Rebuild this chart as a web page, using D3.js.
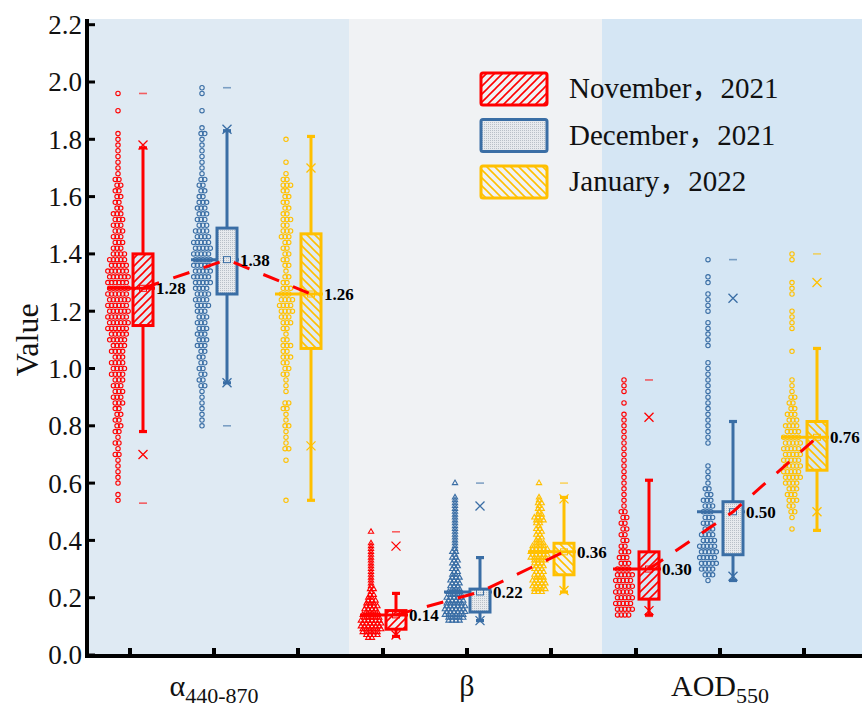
<!DOCTYPE html>
<html>
<head>
<meta charset="utf-8">
<script src="https://cdn.jsdelivr.net/npm/d3@7"></script>
<style>
  html, body { margin: 0; padding: 0; background: #ffffff; }
  svg { display: block; }
</style>
</head>
<body>
<svg id="chart" width="862" height="709"></svg>
<script>
// ---- categories and labels ----
const groupKeys = ["alpha", "beta", "aod"];
const monthKeys = ["November，2021", "December，2021", "January，2022"];
const monthColors = ["#ff0000", "#3a6ea5", "#ffc000"];
const yTickValues = [0, 0.2, 0.4, 0.6, 0.8, 1.0, 1.2, 1.4, 1.6, 1.8, 2.0, 2.2];

// ---- box statistics: rows = alpha, beta, AOD; columns = Nov, Dec, Jan ----
const meanValues   = [[1.28, 1.38, 1.26], [0.14, 0.22, 0.36], [0.30, 0.50, 0.76]];
const q1Values     = [[1.15, 1.26, 1.07], [0.09, 0.15, 0.28], [0.195, 0.35, 0.645]];
const q3Values     = [[1.40, 1.49, 1.47], [0.155, 0.23, 0.39], [0.36, 0.535, 0.815]];
const whiskerLow   = [[0.78, 0.95, 0.54], [0.065, 0.12, 0.22], [0.14, 0.26, 0.435]];
const whiskerHigh  = [[1.77, 1.83, 1.81], [0.215, 0.34, 0.55], [0.61, 0.815, 1.07]];
const p1Values     = [[0.70, 0.95, 0.73], [0.07, 0.12, 0.225], [0.155, 0.275, 0.50]];
const p99Values    = [[1.78, 1.835, 1.70], [0.38, 0.52, 0.545], [0.83, 1.245, 1.30]];
const minValues    = [[0.53, 0.80, 0.54], [0.065, 0.12, 0.22], [0.135, 0.26, 0.435]];
const maxValues    = [[1.96, 1.98, 1.81], [0.43, 0.60, 0.60], [0.96, 1.38, 1.40]];

// ---- raw-value histograms (count of observations per value bin) ----
const binStart = [[0.54, 0.80, 0.54], [0.06, 0.12, 0.22], [0.14, 0.26, 0.44]];
const binStep  = [0.02, 0.01, 0.02];

const alphaNovCounts = [1,1,0,1,1,1,1,1,2,1, 2,1,2,2,2,2,2,3,3,3, 3,3,4,4,4,3,4,4,5,5,
                        6,6,6,6,6,6,6,6,6,6, 6,5,5,4,3,3,3,3,3,3, 3,2,2,2,2,2,2,1,1,1,
                        1,1,1,1,1,0,0,0,1,0, 0,1];
const alphaDecCounts = [1,1,1,1,1,1,1,2,2,2, 2,2,2,2,3,3,3,3,3,3, 3,4,4,4,4,5,5,5,5,5,
                        5,5,5,4,4,3,3,3,3,3, 2,2,2,2,1,1,1,1,1,1, 1,2,1,0,0,1,0,0,1,1];
const alphaJanCounts = [1,0,0,0,0,0,0,1,0,2, 1,1,1,2,1,1,2,2,0,1, 1,1,2,2,2,3,2,3,2,1,
                        2,3,3,4,4,4,3,3,2,2, 1,2,2,2,2,2,3,3,2,3, 2,2,2,2,2,3,2,1,0,1,
                        0,0,0,1];
const betaNovCounts  = [2,4,5,6,6,6,6,5,5,4, 4,4,3,3,2,2,1,2,1,1, 1,1,1,1,1,1,1,1,1,1,
                        1,1,1,1,0,0,0,1];
const betaDecCounts  = [4,5,6,6,6,6,5,5,5,4, 4,3,3,3,3,3,2,2,2,2, 2,2,2,1,2,1,1,1,1,1,
                        1,1,1,1,1,1,1,1,1,1, 1,1,1,1,0,0,0,0,1];
const betaJanCounts  = [3,4,4,4,4,3,3,3,3,3, 3,4,5,5,5,5,4,3,2,2, 2,2,2,1,2,3,3,2,1,2,
                        1,2,1,1,0,0,0,0,1];
const aodNovCounts   = [4,5,5,5,5,5,5,5,4,3, 3,3,2,2,2,2,2,2,2,1, 1,1,1,1,1,1,1,1,1,1,
                        1,1,1,1,1,1,0,1,0,1, 1,1];
const aodDecCounts   = [1,3,4,5,5,5,5,4,4,3, 3,3,3,3,3,2,2,1,1,1, 1,0,0,0,1,1,1,1,1,1,
                        1,1,1,1,1,1,1,1,1,0, 0,1,1,1,1,1,0,1,1,1, 1,0,1,1,0,0,1];
const aodJanCounts   = [1,0,1,2,2,3,3,3,4,5, 5,5,5,5,5,5,5,4,4,3, 3,2,2,2,1,1,1,0,0,0,
                        0,1,0,0,0,1,1,1,1,0, 0,1,1,1,0,0,0,1,1];

const scatterCounts = [
  [alphaNovCounts, alphaDecCounts, alphaJanCounts],
  [betaNovCounts, betaDecCounts, betaJanCounts],
  [aodNovCounts, aodDecCounts, aodJanCounts]
];

// ---- drawing ----
const serif = "'Liberation Serif', 'Times New Roman', 'Noto Sans CJK SC', serif";
const svg = d3.select("#chart");
const plotLeft = 87, plotRight = 862, plotTop = 19;

const y = d3.scaleLinear().domain([0, 2.2]).range([655, 24.7]);
const xGroup = d3.scaleBand().domain(groupKeys).range([96, 855]);
const xMonth = d3.scalePoint().domain(monthKeys).range([34, 202]);
const xPart = d3.scalePoint().domain(["scatter", "box"]).range([-12, 13]);
const tickX = (gi, mi) => xGroup(groupKeys[gi]) + xMonth(monthKeys[mi]);

const defs = svg.append("defs");
// hatch for November
const pNov = defs.append("pattern").attr("id", "hatchNov")
  .attr("patternUnits", "userSpaceOnUse").attr("width", 8).attr("height", 8);
pNov.append("path").attr("d", "M-2,2 L2,-2 M0,8 L8,0 M6,10 L10,6")
  .attr("stroke", monthColors[0]).attr("stroke-width", 1.6);
// fine dots for December
const pDec = defs.append("pattern").attr("id", "dotsDec")
  .attr("patternUnits", "userSpaceOnUse").attr("width", 2).attr("height", 2);
pDec.append("rect").attr("width", 2).attr("height", 2).attr("fill", "#e7eaee");
pDec.append("rect").attr("width", 1).attr("height", 1).attr("fill", "#b9c0c8");
// hatch for January
const pJan = defs.append("pattern").attr("id", "hatchJan")
  .attr("patternUnits", "userSpaceOnUse").attr("width", 8).attr("height", 8);
pJan.append("path").attr("d", "M-2,6 L2,10 M0,0 L8,8 M6,-2 L10,2")
  .attr("stroke", monthColors[2]).attr("stroke-width", 1.6);
const boxFills = ["url(#hatchNov)", "url(#dotsDec)", "url(#hatchJan)"];

// group backgrounds
const bgColors = ["#dfeaf3", "#f0f2f4", "#d5e6f4"];
groupKeys.forEach((g, gi) => {
  const x0 = gi === 0 ? plotLeft : xGroup(g);
  const x1 = gi === groupKeys.length - 1 ? plotRight : xGroup(g) + xGroup.bandwidth();
  svg.append("rect").attr("x", x0).attr("y", plotTop)
    .attr("width", x1 - x0).attr("height", y(0) - plotTop).attr("fill", bgColors[gi]);
});

const dotSpacing = 3.7;
const markLayer = svg.append("g");

groupKeys.forEach((g, gi) => {
  monthKeys.forEach((m, mi) => {
    const cx = tickX(gi, mi);
    const sx = cx + xPart("scatter");
    const bx = cx + xPart("box");
    const color = monthColors[mi];
    const gS = markLayer.append("g");

    // distribution points, rows alternately nudged so neighbours interleave
    const pts = [];
    scatterCounts[gi][mi].forEach((n, i) => {
      const v = +(binStart[gi][mi] + i * binStep[gi]).toFixed(3);
      const nudge = n > 1 ? (i % 2 === 0 ? -0.9 : 0.9) : 0;
      for (let k = 0; k < n; k++) pts.push({ v, dx: (k - (n - 1) / 2) * dotSpacing + nudge });
    });
    if (gi === 1) {
      const tri = d3.symbol(d3.symbolTriangle).size(12)();
      gS.selectAll("path.pt").data(pts).join("path").attr("class", "pt")
        .attr("d", tri)
        .attr("transform", d => `translate(${sx + d.dx},${y(d.v)})`)
        .attr("fill", "none").attr("stroke", color).attr("stroke-width", 1.1);
    } else {
      gS.selectAll("circle").data(pts).join("circle")
        .attr("cx", d => sx + d.dx).attr("cy", d => y(d.v)).attr("r", 2.2)
        .attr("fill", "none").attr("stroke", color).attr("stroke-width", 1.1);
    }

    const mean = meanValues[gi][mi];
    // mean level across points and box
    gS.append("line").attr("x1", cx - 23).attr("x2", cx + 25)
      .attr("y1", y(mean)).attr("y2", y(mean))
      .attr("stroke", color).attr("stroke-width", 3);

    // whiskers
    const bw = 20;
    gS.append("line").attr("x1", bx).attr("x2", bx)
      .attr("y1", y(q3Values[gi][mi])).attr("y2", y(whiskerHigh[gi][mi]))
      .attr("stroke", color).attr("stroke-width", 3);
    gS.append("line").attr("x1", bx).attr("x2", bx)
      .attr("y1", y(q1Values[gi][mi])).attr("y2", y(whiskerLow[gi][mi]))
      .attr("stroke", color).attr("stroke-width", 3);
    [whiskerHigh[gi][mi], whiskerLow[gi][mi]].forEach(v => {
      gS.append("line").attr("x1", bx - 4).attr("x2", bx + 4)
        .attr("y1", y(v)).attr("y2", y(v))
        .attr("stroke", color).attr("stroke-width", 3.2);
    });

    // box
    gS.append("rect").attr("x", bx - bw / 2).attr("y", y(q3Values[gi][mi]))
      .attr("width", bw).attr("height", y(q1Values[gi][mi]) - y(q3Values[gi][mi]))
      .attr("fill", boxFills[mi]).attr("stroke", color).attr("stroke-width", 3);

    // mean marker
    gS.append("rect").attr("x", bx - 3.5).attr("y", y(mean) - 3)
      .attr("width", 7).attr("height", 6)
      .attr("fill", "none").attr("stroke", color).attr("stroke-width", 1);

    // 1st / 99th percentile crosses
    [p1Values[gi][mi], p99Values[gi][mi]].forEach(v => {
      const yy = y(v);
      gS.append("path").attr("d", `M${bx - 4.5},${yy - 4.5}L${bx + 4.5},${yy + 4.5}M${bx - 4.5},${yy + 4.5}L${bx + 4.5},${yy - 4.5}`)
        .attr("stroke", color).attr("stroke-width", 1.3).attr("fill", "none");
    });
    // min / max dashes
    [minValues[gi][mi], maxValues[gi][mi]].forEach(v => {
      gS.append("line").attr("x1", bx - 4).attr("x2", bx + 4)
        .attr("y1", y(v)).attr("y2", y(v))
        .attr("stroke", color).attr("stroke-width", 1.6).attr("opacity", 0.6);
    });
  });
});

// dashed trend through the monthly means
const trend = d3.line().x(d => d.x).y(d => y(d.v));
groupKeys.forEach((g, gi) => {
  const pts = monthKeys.map((m, mi) => ({ x: tickX(gi, mi) + xPart("box"), v: meanValues[gi][mi] }));
  svg.append("path").attr("d", trend(pts)).attr("fill", "none")
    .attr("stroke", "#ff0000").attr("stroke-width", 3).attr("stroke-dasharray", "17,15");
});

// mean value labels
groupKeys.forEach((g, gi) => {
  monthKeys.forEach((m, mi) => {
    svg.append("text")
      .attr("x", tickX(gi, mi) + xPart("box") + 13)
      .attr("y", y(meanValues[gi][mi])).attr("dy", "0.35em")
      .attr("font-family", serif).attr("font-weight", "bold").attr("font-size", 17)
      .attr("fill", "#000").text(d3.format(".2f")(meanValues[gi][mi]));
  });
});

// axes
const axisG = svg.append("g");
axisG.append("line").attr("x1", plotLeft).attr("x2", plotLeft)
  .attr("y1", plotTop).attr("y2", y(0) + 3).attr("stroke", "#000").attr("stroke-width", 4);
axisG.append("line").attr("x1", plotLeft - 2).attr("x2", plotRight)
  .attr("y1", y(0) + 1).attr("y2", y(0) + 1).attr("stroke", "#000").attr("stroke-width", 4);
yTickValues.forEach(v => {
  axisG.append("line").attr("x1", plotLeft).attr("x2", plotLeft + 8)
    .attr("y1", y(v)).attr("y2", y(v)).attr("stroke", "#000").attr("stroke-width", 3);
  axisG.append("text").attr("x", 82).attr("y", y(v)).attr("dy", "0.35em")
    .attr("text-anchor", "end").attr("font-family", serif).attr("font-size", 27)
    .attr("fill", "#111").text(d3.format(".1f")(v));
});
groupKeys.forEach((g, gi) => {
  monthKeys.forEach((m, mi) => {
    const tx = tickX(gi, mi);
    axisG.append("line").attr("x1", tx).attr("x2", tx)
      .attr("y1", y(0)).attr("y2", y(0) - 7).attr("stroke", "#000").attr("stroke-width", 4);
  });
});

// axis titles
svg.append("text").attr("transform", `translate(38,${(y(0) + y(2.2)) / 2}) rotate(-90)`)
  .attr("text-anchor", "middle").attr("font-family", serif).attr("font-size", 32)
  .attr("fill", "#111").text("Value");

const groupTitles = [["α", "440-870"], ["β", ""], ["AOD", "550"]];
groupKeys.forEach((g, gi) => {
  const t = svg.append("text").attr("x", tickX(gi, 1)).attr("y", 696)
    .attr("text-anchor", "middle").attr("font-family", serif).attr("font-size", 30).attr("fill", "#111");
  t.append("tspan").text(groupTitles[gi][0]);
  if (groupTitles[gi][1]) {
    t.append("tspan").attr("font-size", 22).attr("dy", 7).text(groupTitles[gi][1]);
  }
});

// legend
const legend = svg.append("g");
monthKeys.forEach((m, mi) => {
  const ly = 73 + mi * 46.5;
  legend.append("rect").attr("x", 481).attr("y", ly).attr("width", 66).attr("height", 32)
    .attr("rx", 2).attr("fill", boxFills[mi]).attr("stroke", monthColors[mi]).attr("stroke-width", 3);
  legend.append("text").attr("x", 569).attr("y", ly + 25)
    .attr("font-family", serif).attr("font-size", 29).attr("fill", "#111").text(m);
});
</script>
</body>
</html>
